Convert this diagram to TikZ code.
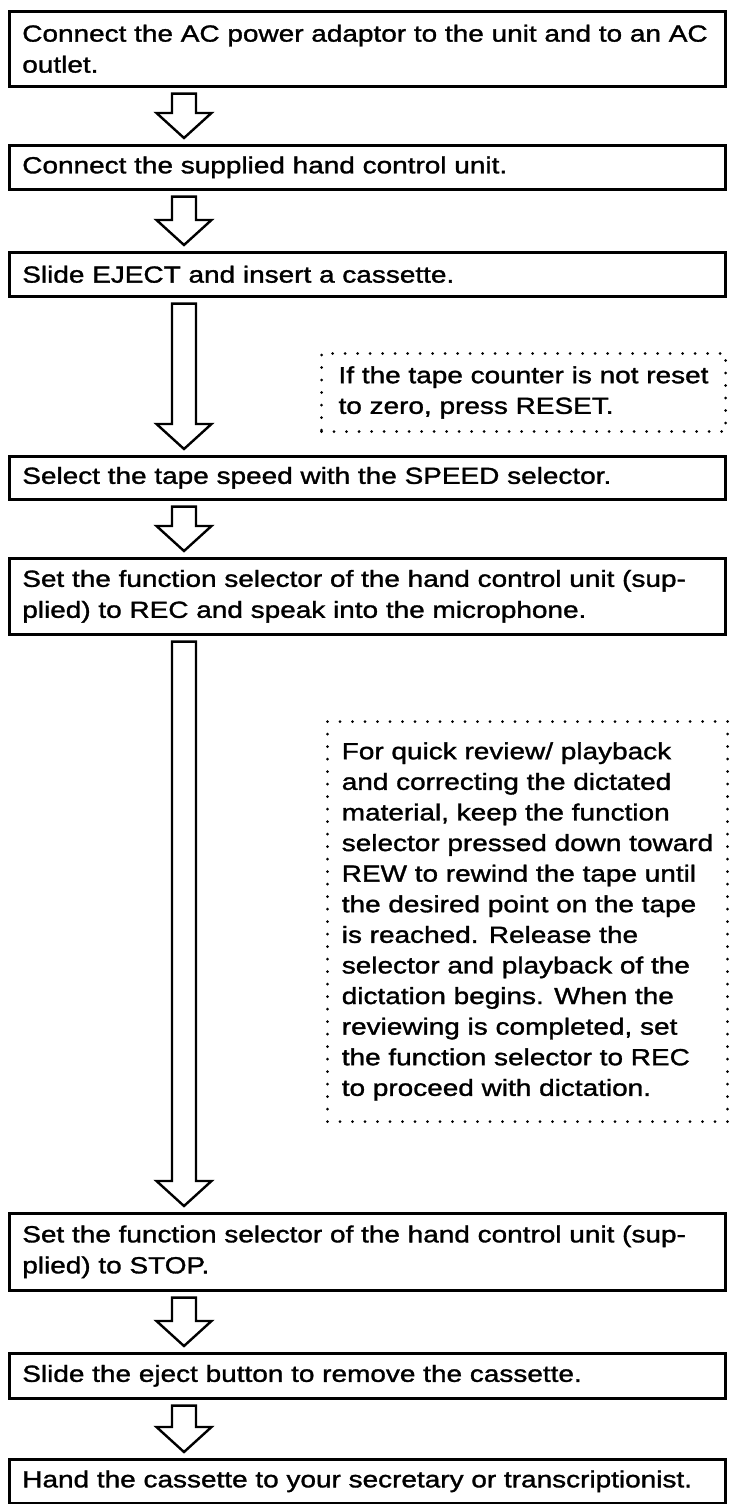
\documentclass[tikz,border=0pt]{standalone}
\usepackage{fontspec}
\setmainfont{Liberation Sans}[FakeStretch=1.2, FakeBold=1.4]
\usetikzlibrary{calc}

\tikzset{
  passo/.style={draw, line width=2.6pt, anchor=north west, text width=690pt,
    inner xsep=13pt, inner ysep=0pt, align=left,
    font=\fontsize{23.3}{31}\selectfont},
  nota/.style={draw, dash pattern=on 0pt off 12.5pt, line cap=round,
    line width=3pt, anchor=north west, align=left, inner sep=0pt,
    font=\fontsize{23.3}{30.6}\selectfont},
  freccia/.style={draw, line width=2.4pt, line join=miter, fill=white}
}

% freccia vuota dal riquadro #1 al riquadro #2
\newcommand{\frecciavuota}[2]{%
  \draw[freccia] let \p1=(#1.south west), \p2=(#2.north west) in
    (\x1+164pt,\y1-6pt) -- (\x1+164pt,\y2+31pt) -- (\x1+148.5pt,\y2+31pt)
    -- (\x1+176pt,\y2+6pt) -- (\x1+203.5pt,\y2+31pt) -- (\x1+188pt,\y2+31pt)
    -- (\x1+188pt,\y1-6pt) -- cycle;}

\begin{document}
\begin{tikzpicture}[x=1pt,y=-1pt]
        \useasboundingbox (0,0) rectangle (731,1504);
        % Passi
        \node[passo, minimum height=75pt] (alim) at (8,10) {Connect the AC power adaptor to the unit and to an~AC\\outlet.};
        \node[passo, minimum height=44pt] (coman) at (8,144) {Connect the supplied hand control unit.};
        \node[passo, minimum height=44pt] (cass) at (8,251) {Slide EJECT and insert a cassette.};
        \node[passo, minimum height=43pt] (veloc) at (8,455) {Select the tape speed with the SPEED selector.};
        \node[passo, minimum height=76pt] (rec) at (8,557) {Set the function selector of the hand control unit (sup-\\plied) to REC and speak into the microphone.};
        \node[passo, minimum height=77pt] (stop) at (8,1212) {Set the function selector of the hand control unit (sup-\\plied) to STOP.};
        \node[passo, minimum height=45pt] (espul) at (8,1352) {Slide the eject button to remove the cassette.};
        \node[passo, minimum height=44pt] (consegna) at (8,1458) {Hand the cassette to your secretary or transcriptionist.};
        % Note
        \node[nota, minimum width=404pt, minimum height=78pt] (reset) at (320,352) {If the tape counter is not reset\\to zero, press RESET.};
        \node[nota, minimum width=400pt, minimum height=400pt] (rew) at (326,720) {For quick review/ playback\\and correcting the dictated\\material, keep the function\\selector pressed down toward\\REW to rewind the tape until\\the desired point on the tape\\is reached. Release the\\selector and playback of the\\dictation begins. When the\\reviewing is completed, set\\the function selector to REC\\to proceed with dictation.};
        % Frecce
        \frecciavuota{alim}{coman}
        \frecciavuota{coman}{cass}
        \frecciavuota{cass}{veloc}
        \frecciavuota{veloc}{rec}
        \frecciavuota{rec}{stop}
        \frecciavuota{stop}{espul}
        \frecciavuota{espul}{consegna}
\end{tikzpicture}
\end{document}
